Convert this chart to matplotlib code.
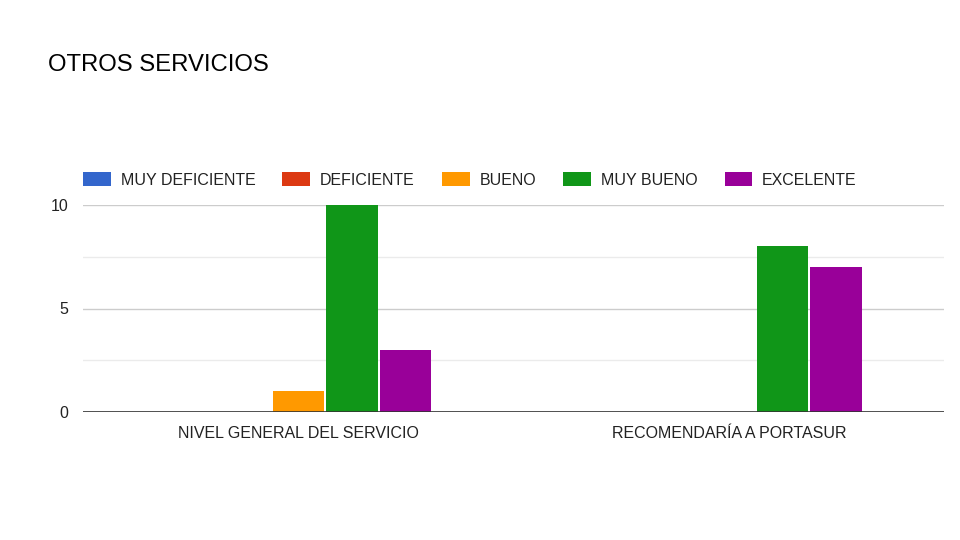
import matplotlib
matplotlib.use("Agg")
import matplotlib.pyplot as plt
import numpy as np

categories = ["NIVEL GENERAL DEL SERVICIO", "RECOMENDARÍA A PORTASUR"]
series_names = ["MUY DEFICIENTE", "DEFICIENTE", "BUENO", "MUY BUENO", "EXCELENTE"]
muy_deficiente = [0, 0]
deficiente = [0, 0]
bueno = [1, 0]
muy_bueno = [10, 8]
excelente = [3, 7]
colors = ["#3366cc", "#dc3912", "#ff9900", "#109618", "#990099"]
title = "OTROS SERVICIOS"

values = [muy_deficiente, deficiente, bueno, muy_bueno, excelente]

fig = plt.figure(figsize=(9.6, 5.4), dpi=100)
ax = fig.add_axes([83/960, 1-412/540, (944-83)/960, (412-205)/540])

x = np.arange(len(categories))
step = 53.5 / 430.5
width = 51.5 / 430.5
handles = []
for i, (name, vals, c) in enumerate(zip(series_names, values, colors)):
    pos = x + (i - 2) * step
    h = ax.bar(pos, vals, width=width, color=c, label=name, zorder=3, linewidth=0)
    handles.append(h)

ax.set_xlim(-0.5, 1.5)
ax.set_ylim(0, 10)
ax.set_yticks([0, 5, 10])
ax.set_yticks([2.5, 7.5], minor=True)
ax.grid(axis="y", which="major", color="#cccccc", linewidth=1, zorder=0)
ax.grid(axis="y", which="minor", color="#ebebeb", linewidth=1, zorder=0)
ax.axhline(0, color="#333333", linewidth=1.2, zorder=4)
for s in ax.spines.values():
    s.set_visible(False)
ax.tick_params(axis="both", which="both", length=0)
ax.tick_params(axis="y", pad=10.5, labelsize=11.5, labelcolor="#222222")
ax.tick_params(axis="x", pad=10, labelsize=11.5, labelcolor="#222222")
ax.set_xticks(x)
ax.set_xticklabels(categories, fontfamily="Liberation Sans")
for lab in ax.get_yticklabels():
    lab.set_fontfamily("Liberation Sans")

fig.text(48/960, 1-65/540, title, fontsize=17.2, fontfamily="Liberation Sans",
         va="center", ha="left", color="#000000")

leg = fig.legend(handles=handles, labels=series_names, loc="center left",
                 bbox_to_anchor=(83/960, 1-180/540), ncol=5, frameon=False,
                 handlelength=1.75, handleheight=1.0, handletextpad=0.6,
                 columnspacing=1.7, borderpad=0, borderaxespad=0,
                 prop={"family": "Liberation Sans", "size": 11.5})
for t in leg.get_texts():
    t.set_color("#222222")

fig.savefig("out.png", dpi=100, facecolor="white")
